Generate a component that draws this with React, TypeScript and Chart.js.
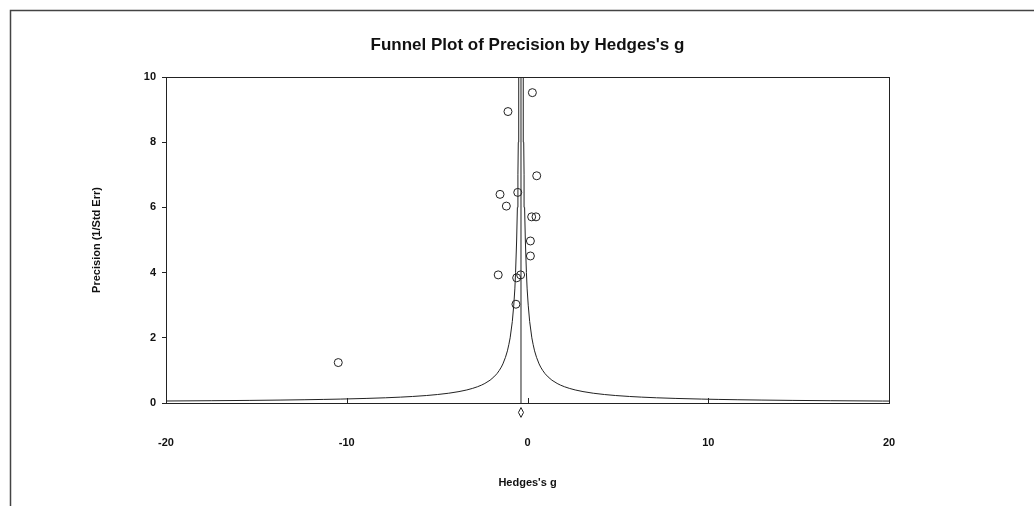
import React, { useEffect, useRef } from 'react';
import { Chart, registerables } from 'chart.js';
Chart.register(...registerables);

// Study effects (Hedges's g) and precision (1/Std Err)
const studyG = [0.27, -1.08, 0.51, -1.52, -0.54, -1.17, 0.23, 0.47, 0.16, 0.16, -1.62, -0.60, -0.38, -0.64, -10.47];
const studyPrecision = [9.52, 8.94, 6.97, 6.40, 6.46, 6.04, 5.71, 5.71, 4.97, 4.51, 3.93, 3.84, 3.93, 3.03, 1.24];

// Pooled estimate
const pooledG = -0.36;

// Funnel limits: precision vs half-width in g
const funnelPrecision = [0.05, 0.06, 0.07, 0.08, 0.09, 0.1, 0.11, 0.12, 0.14, 0.16, 0.18, 0.2, 0.23, 0.26, 0.3, 0.35, 0.4, 0.45, 0.5, 0.55, 0.6, 0.7, 0.8, 0.9, 1.0, 1.1, 1.2, 1.4, 1.6, 1.8, 2.0, 2.5, 3, 3.5, 4, 5, 6, 7, 8, 9, 10];
const funnelHalfWidth = [24, 20, 17.14, 15, 13.33, 12, 10.91, 10, 8.57, 7.5, 6.67, 6, 5.22, 4.62, 4, 3.43, 3, 2.67, 2.4, 2.18, 2, 1.71, 1.5, 1.33, 1.2, 1.09, 1.0, 0.86, 0.75, 0.67, 0.6, 0.48, 0.4, 0.34, 0.3, 0.24, 0.2, 0.17, 0.15, 0.13, 0.12];

// Pooled-effect diamond below the axis
const diamondG = [-0.50, -0.36, -0.22, -0.36, -0.50];
const diamondY = [-0.29, -0.14, -0.29, -0.44, -0.29];

const xTicks = [-20, -10, 0, 10, 20];
const yTicks = [0, 2, 4, 6, 8, 10];

const FONT = "'Liberation Sans', Arial, sans-serif";
const INK = '#222222';

export default function App() {
  const ref = useRef<HTMLCanvasElement | null>(null);

  useEffect(() => {
    const canvas = ref.current;
    if (!canvas) return;

    const framePlugin = {
      id: 'frame',
      beforeDraw(chart: any) {
        const ctx = chart.ctx;
        ctx.save();
        ctx.fillStyle = '#ffffff';
        ctx.fillRect(0, 0, chart.width, chart.height);
        ctx.strokeStyle = '#444444';
        ctx.lineWidth = 1.5;
        ctx.beginPath();
        ctx.moveTo(10.5, chart.height);
        ctx.lineTo(10.5, 10.5);
        ctx.lineTo(chart.width, 10.5);
        ctx.stroke();
        ctx.restore();
      },
      afterDatasetsDraw(chart: any) {
        const ctx = chart.ctx;
        const a = chart.chartArea;
        const xs = chart.scales.x;
        ctx.save();
        ctx.strokeStyle = INK;
        ctx.lineWidth = 1;
        ctx.strokeRect(Math.round(a.left) + 0.5, Math.round(a.top) + 0.5, Math.round(a.right - a.left), Math.round(a.bottom - a.top));
        ctx.beginPath();
        xTicks.forEach((v) => {
          const px = Math.round(xs.getPixelForValue(v)) + 0.5;
          ctx.moveTo(px, a.bottom);
          ctx.lineTo(px, a.bottom - 5);
        });
        ctx.stroke();
        ctx.restore();
      },
    };

    const chart = new Chart(canvas, {
      type: 'scatter',
      data: {
        datasets: [
          {
            label: 'Studies',
            data: studyG.map((g, i) => ({ x: g, y: studyPrecision[i] })),
            pointStyle: 'circle',
            pointRadius: 4,
            pointBorderWidth: 1,
            pointBorderColor: INK,
            pointBackgroundColor: 'rgba(0,0,0,0)',
            showLine: false,
          },
          {
            label: 'Pooled line',
            data: [{ x: pooledG, y: 0 }, { x: pooledG, y: 10 }],
            showLine: true,
            borderColor: INK,
            borderWidth: 1,
            pointRadius: 0,
          },
          {
            label: 'Funnel left',
            data: funnelPrecision.map((p, i) => ({ x: pooledG - funnelHalfWidth[i], y: p })),
            showLine: true,
            borderColor: INK,
            borderWidth: 1,
            pointRadius: 0,
          },
          {
            label: 'Funnel right',
            data: funnelPrecision.map((p, i) => ({ x: pooledG + funnelHalfWidth[i], y: p })),
            showLine: true,
            borderColor: INK,
            borderWidth: 1,
            pointRadius: 0,
          },
          {
            label: 'Diamond',
            data: diamondG.map((g, i) => ({ x: g, y: diamondY[i] })),
            showLine: true,
            borderColor: INK,
            borderWidth: 1,
            pointRadius: 0,
            clip: false as any,
          },
        ],
      },
      options: {
        responsive: false,
        animation: false,
        layout: { padding: { left: 0, right: 145, top: 0, bottom: 0 } },
        plugins: {
          legend: { display: false },
          tooltip: { enabled: false },
          title: {
            display: true,
            fullSize: false,
            text: "Funnel Plot of Precision by Hedges's g",
            color: '#111111',
            font: { family: FONT, size: 17, weight: 'bold', lineHeight: 1.2 },
            padding: { top: 35, bottom: 21.6 },
          },
        },
        scales: {
          x: {
            type: 'linear',
            min: -20,
            max: 20,
            afterFit: (s: any) => { s.height = 103; },
            afterBuildTicks: (s: any) => { s.ticks = xTicks.map((v) => ({ value: v })); },
            grid: { display: false, drawTicks: false },
            border: { display: true, color: INK, width: 1 },
            ticks: {
              color: '#111111',
              padding: 33,
              maxRotation: 0,
              font: { family: FONT, size: 11, weight: 'bold' },
              callback: (v: any) => String(v),
            },
            title: {
              display: true,
              text: "Hedges's g",
              color: '#111111',
              font: { family: FONT, size: 11, weight: 'bold', lineHeight: 1.2 },
              padding: { top: 0, bottom: 16 },
            },
          },
          y: {
            type: 'linear',
            min: 0,
            max: 10,
            afterFit: (s: any) => { s.width = 166; },
            afterBuildTicks: (s: any) => { s.ticks = yTicks.map((v) => ({ value: v })); },
            grid: { display: true, drawOnChartArea: false, drawTicks: true, tickLength: 4, color: INK },
            border: { display: true, color: INK, width: 1 },
            ticks: {
              color: '#111111',
              padding: 6,
              font: { family: FONT, size: 11, weight: 'bold' },
              callback: (v: any) => String(v),
            },
            title: {
              display: true,
              text: 'Precision (1/Std Err)',
              color: '#111111',
              font: { family: FONT, size: 11, weight: 'bold', lineHeight: 1.2 },
              padding: { top: 90, bottom: 0 },
            },
          },
        },
      },
      plugins: [framePlugin],
    });

    return () => chart.destroy();
  }, []);

  return (
    <div style={{ position: 'fixed', left: 0, top: 0, width: 1034, height: 506, background: '#fff' }}>
      <canvas ref={ref} width={1034} height={506} style={{ display: 'block' }} />
    </div>
  );
}
